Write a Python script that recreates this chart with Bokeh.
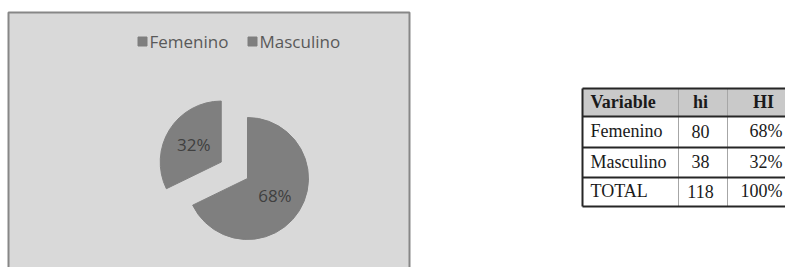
import numpy as np
from bokeh.plotting import figure
from bokeh.models import Range1d, ColumnDataSource
from bokeh.core.properties import value
from bokeh.embed import file_html
from bokeh.resources import INLINE

# ---- data ----
categories = ["Femenino", "Masculino"]
hi = [80, 38]
HI = ["68%", "32%"]
total_label = "TOTAL"
total_hi = 118
total_HI = "100%"
header = ["Variable", "hi", "HI"]

W, H = 785, 267
def X(x):
    return x
def Y(y):
    return H - y

p = figure(width=W, height=H, x_range=Range1d(0, W), y_range=Range1d(0, H),
           output_backend="svg", toolbar_location=None, min_border=0,
           x_axis_location=None, y_axis_location=None,
           background_fill_color="white", border_fill_color="white")
p.outline_line_color = None
p.xgrid.visible = False
p.ygrid.visible = False

# ---- chart panel ----
p.quad(left=X(8), right=X(409), top=Y(12), bottom=-20,
       fill_color="#d9d9d9", line_color="#878787", line_width=2)

pie_color = "#7f7f7f"
sans = value("Open Sans")

# ---- legend ----
leg_x = [X(142), X(252)]
leg_y = Y(41)
p.scatter(x=leg_x, y=[leg_y] * 2, marker="square", size=9,
          fill_color=pie_color, line_color=pie_color)
p.text(x=[x + 7 for x in leg_x], y=[leg_y] * 2, text=categories,
       text_font=sans, text_font_size="17px", text_color="#595959",
       text_baseline="middle", text_align="left")

# ---- pie ----
cx, cy, r = X(247), Y(178), 61
explode = [0, 31]
vals = np.array(hi, dtype=float)
frac = vals / vals.sum()
cum = np.concatenate([[0], np.cumsum(frac)])
starts = np.pi / 2 - 2 * np.pi * cum[:-1]
ends = np.pi / 2 - 2 * np.pi * cum[1:]
mids = (starts + ends) / 2
xs = cx + np.array(explode) * np.cos(mids)
ys = cy + np.array(explode) * np.sin(mids)
src = ColumnDataSource(dict(x=xs, y=ys, s=starts, e=ends,
                            lx=xs + 0.53 * r * np.cos(mids),
                            ly=ys + 0.53 * r * np.sin(mids),
                            lab=HI))
p.wedge(x="x", y="y", radius=r, start_angle="s", end_angle="e",
        direction="clock", fill_color=pie_color, line_color=pie_color,
        source=src)
p.text(x="lx", y="ly", text="lab", source=src, text_font=sans,
       text_font_size="17px", text_color="#404040",
       text_align="center", text_baseline="middle")

# ---- table ----
serif = value("Liberation Serif")
tl, tr = X(582), X(800)
row_edges = [88, 116, 147, 177, 206]
col_lines = [X(678), X(727)]
p.quad(left=tl, right=tr, top=Y(row_edges[0]), bottom=Y(row_edges[1]),
       fill_color="#c9c9c9", line_color=None)
# column separators
p.segment(x0=col_lines, x1=col_lines, y0=[Y(row_edges[0])] * 2,
          y1=[Y(row_edges[-1])] * 2, line_color="#a6a6a6", line_width=1)
# row lines
p.segment(x0=[tl] * len(row_edges), x1=[tr] * len(row_edges),
          y0=[Y(v) for v in row_edges], y1=[Y(v) for v in row_edges],
          line_color="#262626", line_width=2)
p.segment(x0=[tl], x1=[tl], y0=[Y(row_edges[0])], y1=[Y(row_edges[-1])],
          line_color="#262626", line_width=2)

row_mid = [Y((row_edges[i] + row_edges[i + 1]) / 2) + 1 for i in range(4)]
col1_x = X(590)
col2_x = X(700)
col3_x = X(782)
fs = "18px"
# header
p.text(x=[col1_x], y=[row_mid[0]], text=[header[0]], text_font=serif,
       text_font_style="bold", text_font_size=fs, text_color="#1a1a1a",
       text_align="left", text_baseline="middle")
p.text(x=[col2_x, X(763)], y=[row_mid[0]] * 2, text=header[1:], text_font=serif,
       text_font_style="bold", text_font_size=fs, text_color="#1a1a1a",
       text_align="center", text_baseline="middle")
# body
names = categories + [total_label]
counts = [str(v) for v in hi] + [str(total_hi)]
pcts = HI + [total_HI]
p.text(x=[col1_x] * 3, y=row_mid[1:], text=names, text_font=serif,
       text_font_size=fs, text_color="#1a1a1a",
       text_align="left", text_baseline="middle")
p.text(x=[col2_x] * 3, y=row_mid[1:], text=counts, text_font=serif,
       text_font_size=fs, text_color="#1a1a1a",
       text_align="center", text_baseline="middle")
p.text(x=[col3_x] * 3, y=row_mid[1:], text=pcts, text_font=serif,
       text_font_size=fs, text_color="#1a1a1a",
       text_align="right", text_baseline="middle")

open("out.html", "w").write(file_html(p, INLINE))
